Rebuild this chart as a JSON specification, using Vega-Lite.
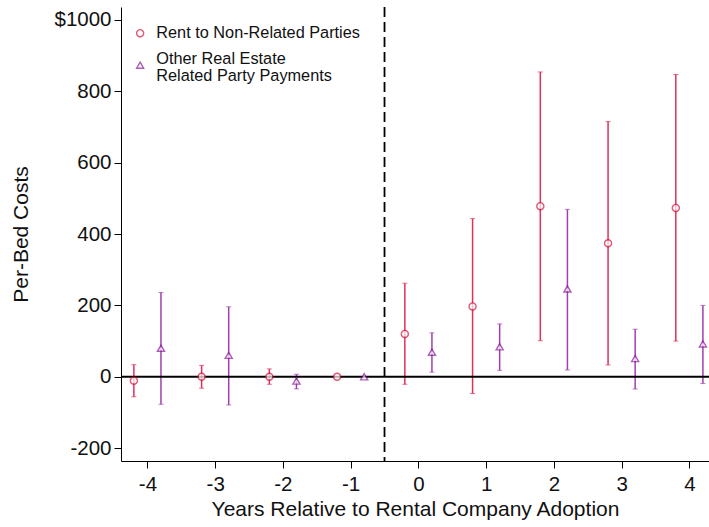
{
  "$schema": "https://vega.github.io/schema/vega-lite/v6.json",
  "width": 588,
  "height": 454,
  "autosize": {"type": "none"},
  "padding": {"left": 121, "top": 7, "right": 0, "bottom": 66},
  "background": "white",
  "config": {
    "font": "Liberation Sans",
    "view": {"stroke": null}
  },
  "data": {
    "values": [
      {"year": -4.2, "series": "Rent", "b": -11, "lo": -56, "hi": 34},
      {"year": -3.2, "series": "Rent", "b": 0, "lo": -32, "hi": 32},
      {"year": -2.2, "series": "Rent", "b": 0, "lo": -21, "hi": 22},
      {"year": -1.2, "series": "Rent", "b": 0, "lo": 0, "hi": 0},
      {"year": -0.2, "series": "Rent", "b": 120, "lo": -21, "hi": 262},
      {"year": 0.8, "series": "Rent", "b": 197, "lo": -47, "hi": 443},
      {"year": 1.8, "series": "Rent", "b": 478, "lo": 101, "hi": 854},
      {"year": 2.8, "series": "Rent", "b": 374, "lo": 33, "hi": 715},
      {"year": 3.8, "series": "Rent", "b": 473, "lo": 100, "hi": 847},
      {"year": -3.8, "series": "Other", "b": 80, "lo": -77, "hi": 236},
      {"year": -2.8, "series": "Other", "b": 60, "lo": -79, "hi": 196},
      {"year": -1.8, "series": "Other", "b": -12, "lo": -34, "hi": 7},
      {"year": -0.8, "series": "Other", "b": 0, "lo": 0, "hi": 0},
      {"year": 0.2, "series": "Other", "b": 69, "lo": 13, "hi": 123},
      {"year": 1.2, "series": "Other", "b": 84, "lo": 18, "hi": 148},
      {"year": 2.2, "series": "Other", "b": 246, "lo": 19, "hi": 469},
      {"year": 3.2, "series": "Other", "b": 51, "lo": -34, "hi": 133},
      {"year": 4.2, "series": "Other", "b": 92, "lo": -19, "hi": 200}
    ]
  },
  "layer": [
    {
      "transform": [{"filter": "datum.series == 'Rent'"}],
      "mark": {
        "type": "errorbar",
        "color": "#e0305a",
        "rule": {"strokeWidth": 1.5},
        "ticks": {"size": 5, "thickness": 1}
      },
      "encoding": {
        "x": {
          "field": "year",
          "type": "quantitative",
          "title": "Years Relative to Rental Company Adoption",
          "scale": {"domain": [-4.39, 4.29], "nice": false, "zero": false},
          "axis": {
            "values": [-4, -3, -2, -1, 0, 1, 2, 3, 4],
            "labelExpr": "'' + datum.value",
            "grid": false,
            "domainColor": "black",
            "tickColor": "black",
            "tickSize": 7,
            "labelColor": "#111",
            "titleColor": "#111",
            "labelFontSize": 20.5,
            "titleFontSize": 21,
            "titleFontWeight": "normal",
            "labelPadding": 6,
            "titlePadding": 4
          }
        },
        "y": {
          "field": "lo",
          "type": "quantitative",
          "title": "Per-Bed Costs",
          "scale": {"domain": [-236, 1036], "nice": false, "zero": false},
          "axis": {
            "values": [-200, 0, 200, 400, 600, 800, 1000],
            "labelExpr": "datum.value == 1000 ? '$1000' : '' + datum.value",
            "grid": false,
            "domainColor": "black",
            "tickColor": "black",
            "tickSize": 7,
            "labelColor": "#111",
            "titleColor": "#111",
            "labelFontSize": 20.5,
            "titleFontSize": 21,
            "titleFontWeight": "normal",
            "titlePadding": 22,
            "labelPadding": 3
          }
        },
        "y2": {"field": "hi"}
      }
    },
    {
      "transform": [{"filter": "datum.series == 'Other'"}],
      "mark": {
        "type": "errorbar",
        "color": "#a040b0",
        "rule": {"strokeWidth": 1.5},
        "ticks": {"size": 5, "thickness": 1}
      },
      "encoding": {
        "x": {"field": "year", "type": "quantitative", "title": "Years Relative to Rental Company Adoption"},
        "y": {"field": "lo", "type": "quantitative", "title": "Per-Bed Costs"},
        "y2": {"field": "hi"}
      }
    },
    {
      "data": {"values": [{"zero": 0}]},
      "mark": {"type": "rule", "color": "black", "strokeWidth": 2},
      "encoding": {"y": {"field": "zero", "type": "quantitative", "title": "Per-Bed Costs"}}
    },
    {
      "data": {"values": [{"adopt": -0.5}]},
      "mark": {"type": "rule", "color": "black", "strokeWidth": 1.8, "strokeDash": [10, 5]},
      "encoding": {"x": {"field": "adopt", "type": "quantitative", "title": "Years Relative to Rental Company Adoption"}}
    },
    {
      "mark": {"type": "point", "filled": false, "fill": "white", "strokeWidth": 1.4, "size": 50},
      "encoding": {
        "x": {"field": "year", "type": "quantitative", "title": "Years Relative to Rental Company Adoption"},
        "y": {"field": "b", "type": "quantitative", "title": "Per-Bed Costs"},
        "color": {
          "field": "series",
          "type": "nominal",
          "scale": {"domain": ["Rent", "Other"], "range": ["#d4163f", "#8a1a98"]},
          "legend": {
            "title": null,
            "orient": "none",
            "legendX": 11,
            "legendY": 18,
            "padding": 0,
            "labelFontSize": 16.3,
            "labelColor": "#111",
            "labelLimit": 400,
            "symbolSize": 50,
            "symbolStrokeWidth": 1.4,
            "rowPadding": 8,
            "labelOffset": 8,
            "labelExpr": "datum.value == 'Rent' ? 'Rent to Non-Related Parties' : ['Other Real Estate', 'Related Party Payments']",
            "encoding": {
              "labels": {
                "dy": {"value": {"expr": "datum.value == 'Other' ? -6.5 : 0"}},
                "lineHeight": {"value": 17}
              }
            }
          }
        },
        "shape": {
          "field": "series",
          "type": "nominal",
          "scale": {"domain": ["Rent", "Other"], "range": ["circle", "triangle-up"]},
          "legend": {
            "title": null,
            "orient": "none",
            "legendX": 11,
            "legendY": 18,
            "padding": 0,
            "labelFontSize": 16.3,
            "labelColor": "#111",
            "labelLimit": 400,
            "symbolSize": 50,
            "symbolStrokeWidth": 1.4,
            "rowPadding": 8,
            "labelOffset": 8,
            "labelExpr": "datum.value == 'Rent' ? 'Rent to Non-Related Parties' : ['Other Real Estate', 'Related Party Payments']",
            "encoding": {
              "labels": {
                "dy": {"value": {"expr": "datum.value == 'Other' ? -6.5 : 0"}},
                "lineHeight": {"value": 17}
              }
            }
          }
        }
      }
    }
  ]
}
